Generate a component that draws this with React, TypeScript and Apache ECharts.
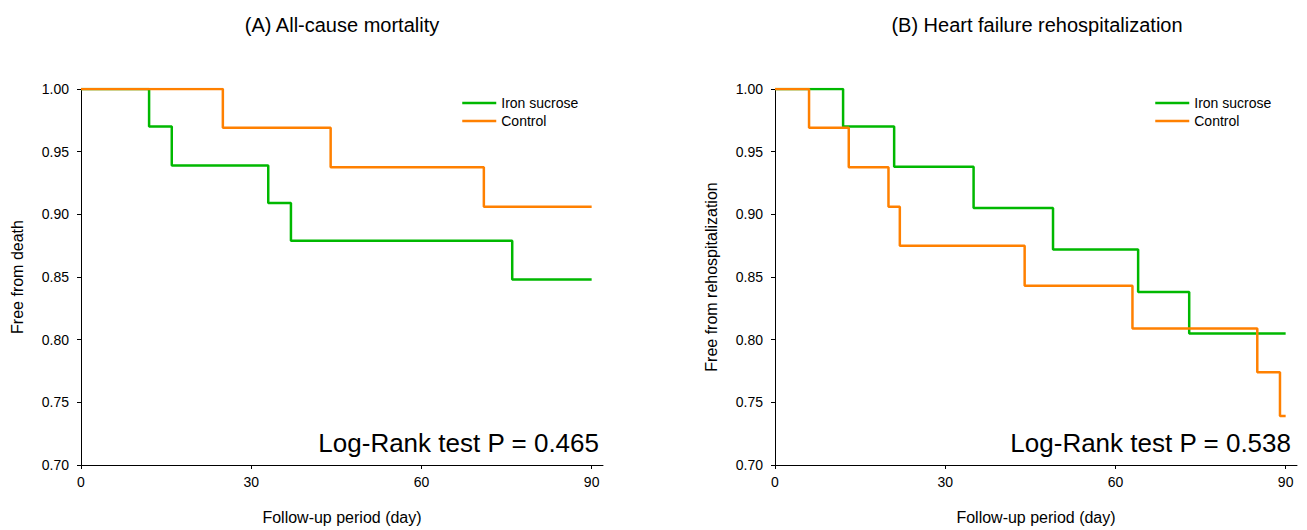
import React, { useEffect, useRef } from "react";
import * as echarts from "echarts";

const seriesNames = ["Iron sucrose", "Control"];
const panelTitles = ["(A) All-cause mortality", "(B) Heart failure rehospitalization"];
const yAxisNames = ["Free from death", "Free from rehospitalization"];
const xAxisName = "Follow-up period (day)";
const pValueTexts = ["Log-Rank test P = 0.465", "Log-Rank test P = 0.538"];
const xTicks = [0, 30, 60, 90];

// Panel A: all-cause mortality
const daysAIron = [0, 12, 16, 33, 37, 76, 90];
const survAIron = [1.0, 0.97, 0.939, 0.909, 0.879, 0.848, 0.848];
const daysAControl = [0, 25, 44, 71, 90];
const survAControl = [1.0, 0.969, 0.9375, 0.906, 0.906];

// Panel B: heart failure rehospitalization
const daysBIron = [0, 12, 21, 35, 49, 64, 73, 90];
const survBIron = [1.0, 0.97, 0.938, 0.905, 0.872, 0.838, 0.805, 0.805];
const daysBControl = [0, 6, 13, 20, 22, 44, 63, 85, 89, 90];
const survBControl = [1.0, 0.969, 0.9375, 0.906, 0.875, 0.843, 0.809, 0.774, 0.739, 0.739];

const GREEN = "#00b800";
const ORANGE = "#ff8000";
const FONT = "'Liberation Sans', Arial, Helvetica, sans-serif";

const zip = (xs: number[], ys: number[]) => xs.map((x, i) => [x, ys[i]]);

export default function App() {
  const ref = useRef<HTMLDivElement>(null);

  useEffect(() => {
    if (!ref.current) return;
    const chart = echarts.init(ref.current, undefined, { renderer: "svg" });

    const gridLefts = [81, 775];
    const titleCenters = [342, 1037];
    const pRight = [599, 1291];
    const legendLefts = [456, 1149];

    const grids = gridLefts.map((l) => ({ left: l, top: 89, width: 522, height: 377.5, containLabel: false }));

    const xAxes = gridLefts.map((_, i) => ({
      type: "value",
      gridIndex: i,
      min: 0,
      max: 92,
      interval: 30,
      name: xAxisName,
      nameLocation: "middle",
      nameGap: 44,
      nameTextStyle: { fontSize: 16, color: "#000", fontFamily: FONT },
      axisLine: { show: true, lineStyle: { color: "#000", width: 1 } },
      axisTick: { show: true, length: 4, customValues: xTicks, lineStyle: { color: "#000" } },
      axisLabel: {
        customValues: xTicks,
        fontSize: 14,
        color: "#000",
        fontFamily: FONT,
        margin: 10,
        formatter: (v: number) => (v % 30 === 0 ? String(v) : ""),
      },
      splitLine: { show: false },
    }));

    const yAxes = gridLefts.map((_, i) => ({
      type: "value",
      gridIndex: i,
      min: 0.7,
      max: 1.0,
      interval: 0.05,
      name: yAxisNames[i],
      nameLocation: "middle",
      nameGap: 56,
      nameTextStyle: { fontSize: 16, color: "#000", fontFamily: FONT },
      axisLine: { show: true, lineStyle: { color: "#000", width: 1 } },
      axisTick: { show: true, length: 4, lineStyle: { color: "#000" } },
      axisLabel: {
        fontSize: 14,
        color: "#000",
        fontFamily: FONT,
        margin: 12,
        formatter: (v: number) => v.toFixed(2),
      },
      splitLine: { show: false },
    }));

    const mk = (name: string, color: string, idx: number, data: number[][]) => ({
      name,
      type: "line",
      step: "end",
      xAxisIndex: idx,
      yAxisIndex: idx,
      data,
      symbol: "none",
      showSymbol: false,
      lineStyle: { color, width: 2.5 },
      itemStyle: { color },
      emphasis: { disabled: true },
    });

    const series = [
      mk(seriesNames[0], GREEN, 0, zip(daysAIron, survAIron)),
      mk(seriesNames[1], ORANGE, 0, zip(daysAControl, survAControl)),
      mk(seriesNames[0], GREEN, 1, zip(daysBIron, survBIron)),
      mk(seriesNames[1], ORANGE, 1, zip(daysBControl, survBControl)),
    ];

    const legends = legendLefts.map((l) => ({
      data: seriesNames,
      orient: "vertical",
      left: l,
      top: 91,
      itemWidth: 34,
      itemHeight: 14,
      itemGap: 4,
      selectedMode: false,
      itemStyle: { opacity: 0, borderWidth: 0 },
      lineStyle: { width: 2.5 },
      textStyle: { fontSize: 14, color: "#000", fontFamily: FONT },
    }));

    const graphics: any[] = [];
    titleCenters.forEach((cx, i) => {
      graphics.push({
        type: "text",
        x: cx,
        y: 25,
        style: {
          text: panelTitles[i],
          fontSize: 20,
          fontFamily: FONT,
          fill: "#000",
          align: "center",
          verticalAlign: "middle",
        },
      });
    });
    pRight.forEach((rx, i) => {
      graphics.push({
        type: "text",
        x: rx,
        y: 443,
        style: {
          text: pValueTexts[i],
          fontSize: 26,
          fontFamily: FONT,
          fill: "#000",
          align: "right",
          verticalAlign: "middle",
        },
      });
    });

    chart.setOption({
      animation: false,
      backgroundColor: "#fff",
      textStyle: { fontFamily: FONT },
      grid: grids,
      xAxis: xAxes,
      yAxis: yAxes,
      legend: legends,
      series,
      graphic: graphics,
    } as any);

    return () => chart.dispose();
  }, []);

  return (
    <div
      ref={ref}
      style={{ position: "absolute", left: 0, top: 0, width: 1307, height: 530, background: "#fff" }}
    />
  );
}
